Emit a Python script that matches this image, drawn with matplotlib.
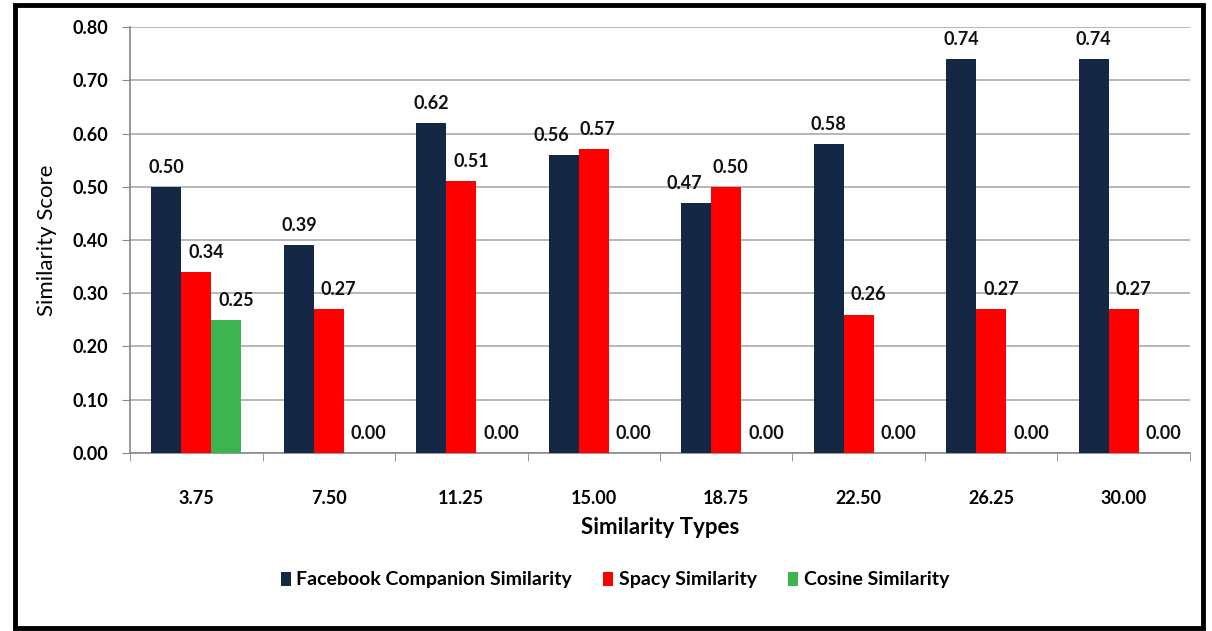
import matplotlib.pyplot as plt
from matplotlib.patches import Rectangle
import numpy as np

categories = ["3.75", "7.50", "11.25", "15.00", "18.75", "22.50", "26.25", "30.00"]
facebook = [0.50, 0.39, 0.62, 0.56, 0.47, 0.58, 0.74, 0.74]
spacy = [0.34, 0.27, 0.51, 0.57, 0.50, 0.26, 0.27, 0.27]
cosine = [0.25, 0.00, 0.00, 0.00, 0.00, 0.00, 0.00, 0.00]
series_names = ["Facebook Companion Similarity", "Spacy Similarity", "Cosine Similarity"]
colors = ["#142846", "#ff0000", "#3cb550"]

plt.rcParams['font.family'] = ['Lato', 'DejaVu Sans']

fig = plt.figure(figsize=(12.12, 6.31), dpi=100)
ax = fig.add_axes([0.1073, 0.2821, 0.8745, 0.6751])

x = np.arange(len(categories))
w = 0.226
all_vals = [facebook, spacy, cosine]
for i, (vals, name) in enumerate(zip(all_vals, series_names)):
    pos = x + (i - 1) * w
    ax.bar(pos, vals, width=w, color=colors[i], label=name, zorder=3)
    for j, (p, v) in enumerate(zip(pos, vals)):
        # excel-like label placement: later series nudged right,
        # navy label nudged left when it would clash with the red one
        dx = 0 if i == 0 else 10
        if i == 0 and abs(facebook[j] - spacy[j]) < 0.05:
            dx = -12
        if i == 1 and abs(facebook[j] - spacy[j]) < 0.05:
            dx = 4
        ax.annotate(f"{v:.2f}", (p, v), xytext=(dx * 0.72, 8), textcoords='offset points',
                    ha='center', va='bottom', fontsize=13, fontweight='bold',
                    color='#111111')

ax.set_xlim(-0.5, len(categories) - 0.5)
ax.set_ylim(0, 0.80)
yt = np.arange(0, 0.81, 0.10)
ax.set_yticks(yt)
ax.set_yticklabels([f"{t:.2f}" for t in yt], fontsize=13, fontweight='bold')
ax.set_xticks(x)
ax.set_xticklabels(categories, fontsize=13, fontweight='bold')
ax.set_xticks(np.arange(-0.5, len(categories)), minor=True)
ax.tick_params(axis='x', which='major', length=0, pad=27)
ax.tick_params(axis='x', which='minor', length=6, color='#888888', direction='out')
ax.tick_params(axis='y', length=6, color='#888888', direction='out', pad=10)

ax.grid(axis='y', color='#aaaaaa', linewidth=1.2, zorder=0)
ax.set_axisbelow(True)
for s in ['top', 'right']:
    ax.spines[s].set_visible(False)
for s in ['left', 'bottom']:
    ax.spines[s].set_color('#888888')
    ax.spines[s].set_linewidth(1.2)

ax.set_ylabel("Similarity Score", fontsize=16)
ax.yaxis.set_label_coords(-0.078, 0.5)
ax.yaxis.label.set_va('center')
ax.set_xlabel("Similarity Types", fontsize=16, fontweight='bold')
ax.xaxis.set_label_coords(0.5, -0.174)
ax.xaxis.label.set_va('center')

ax.legend(loc='center', bbox_to_anchor=(0.4575, -0.298), ncol=3, frameon=False,
          prop={'size': 14, 'weight': 'bold'}, handlelength=0.5, handleheight=0.75,
          handletextpad=0.3, columnspacing=1.6)

fig.add_artist(Rectangle((0.0124, 0.005), 0.980, 0.987, transform=fig.transFigure,
                         fill=False, edgecolor='black', linewidth=3.5))

fig.savefig("out.png", dpi=100)
